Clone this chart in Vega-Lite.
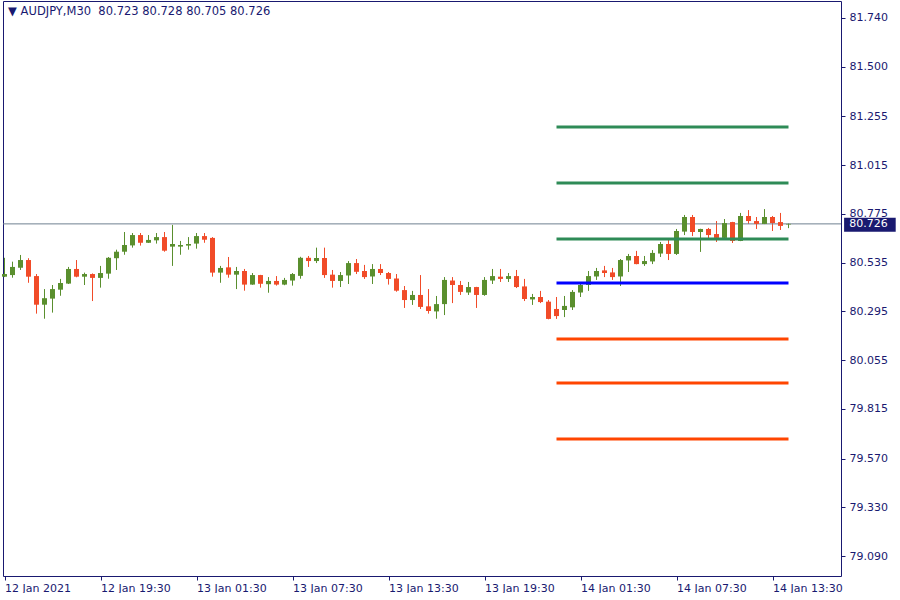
{
  "$schema": "https://vega.github.io/schema/vega-lite/v6.json",
  "width": 838,
  "height": 575,
  "padding": {"left": 2, "top": 1, "right": 0, "bottom": 0},
  "background": "white",
  "config": {
    "font": "DejaVu Sans",
    "view": {"stroke": "#191970", "strokeWidth": 1},
    "axis": {"labelFont": "DejaVu Sans", "labelFontSize": 11, "labelColor": "#191970", "tickColor": "#191970", "domain": false, "grid": false, "title": null}
  },
  "datasets": {
    "candles": [
      {"i":0,"o":80.466,"h":80.559,"l":80.464,"c":80.479},
      {"i":1,"o":80.474,"h":80.540,"l":80.461,"c":80.514},
      {"i":2,"o":80.510,"h":80.573,"l":80.499,"c":80.548},
      {"i":3,"o":80.548,"h":80.557,"l":80.436,"c":80.466},
      {"i":4,"o":80.469,"h":80.479,"l":80.284,"c":80.328},
      {"i":5,"o":80.328,"h":80.405,"l":80.259,"c":80.360},
      {"i":6,"o":80.358,"h":80.425,"l":80.289,"c":80.405},
      {"i":7,"o":80.402,"h":80.455,"l":80.372,"c":80.435},
      {"i":8,"o":80.432,"h":80.514,"l":80.430,"c":80.504},
      {"i":9,"o":80.504,"h":80.548,"l":80.463,"c":80.466},
      {"i":10,"o":80.466,"h":80.486,"l":80.425,"c":80.479},
      {"i":11,"o":80.479,"h":80.482,"l":80.346,"c":80.460},
      {"i":12,"o":80.460,"h":80.519,"l":80.412,"c":80.484},
      {"i":13,"o":80.481,"h":80.563,"l":80.456,"c":80.559},
      {"i":14,"o":80.557,"h":80.599,"l":80.499,"c":80.589},
      {"i":15,"o":80.589,"h":80.686,"l":80.574,"c":80.622},
      {"i":16,"o":80.620,"h":80.681,"l":80.609,"c":80.671},
      {"i":17,"o":80.671,"h":80.681,"l":80.619,"c":80.633},
      {"i":18,"o":80.633,"h":80.671,"l":80.632,"c":80.647},
      {"i":19,"o":80.645,"h":80.681,"l":80.629,"c":80.661},
      {"i":20,"o":80.661,"h":80.686,"l":80.589,"c":80.594},
      {"i":21,"o":80.614,"h":80.721,"l":80.519,"c":80.627},
      {"i":22,"o":80.614,"h":80.642,"l":80.574,"c":80.622},
      {"i":23,"o":80.619,"h":80.661,"l":80.599,"c":80.627},
      {"i":24,"o":80.629,"h":80.681,"l":80.604,"c":80.666},
      {"i":25,"o":80.666,"h":80.681,"l":80.633,"c":80.648},
      {"i":26,"o":80.657,"h":80.661,"l":80.466,"c":80.486},
      {"i":27,"o":80.486,"h":80.519,"l":80.436,"c":80.509},
      {"i":28,"o":80.512,"h":80.563,"l":80.461,"c":80.476},
      {"i":29,"o":80.476,"h":80.514,"l":80.405,"c":80.494},
      {"i":30,"o":80.494,"h":80.504,"l":80.397,"c":80.427},
      {"i":31,"o":80.427,"h":80.484,"l":80.426,"c":80.474},
      {"i":32,"o":80.474,"h":80.475,"l":80.412,"c":80.431},
      {"i":33,"o":80.429,"h":80.464,"l":80.387,"c":80.445},
      {"i":34,"o":80.445,"h":80.469,"l":80.422,"c":80.427},
      {"i":35,"o":80.427,"h":80.460,"l":80.424,"c":80.450},
      {"i":36,"o":80.447,"h":80.484,"l":80.422,"c":80.479},
      {"i":37,"o":80.470,"h":80.564,"l":80.456,"c":80.559},
      {"i":38,"o":80.559,"h":80.568,"l":80.514,"c":80.543},
      {"i":39,"o":80.543,"h":80.609,"l":80.533,"c":80.558},
      {"i":40,"o":80.558,"h":80.609,"l":80.460,"c":80.474},
      {"i":41,"o":80.476,"h":80.499,"l":80.412,"c":80.445},
      {"i":42,"o":80.445,"h":80.489,"l":80.415,"c":80.474},
      {"i":43,"o":80.472,"h":80.543,"l":80.430,"c":80.533},
      {"i":44,"o":80.533,"h":80.553,"l":80.479,"c":80.490},
      {"i":45,"o":80.494,"h":80.524,"l":80.455,"c":80.464},
      {"i":46,"o":80.467,"h":80.528,"l":80.430,"c":80.504},
      {"i":47,"o":80.504,"h":80.528,"l":80.474,"c":80.484},
      {"i":48,"o":80.484,"h":80.489,"l":80.427,"c":80.455},
      {"i":49,"o":80.457,"h":80.479,"l":80.392,"c":80.397},
      {"i":50,"o":80.400,"h":80.420,"l":80.312,"c":80.351},
      {"i":51,"o":80.351,"h":80.396,"l":80.327,"c":80.376},
      {"i":52,"o":80.376,"h":80.474,"l":80.307,"c":80.317},
      {"i":53,"o":80.320,"h":80.405,"l":80.284,"c":80.297},
      {"i":54,"o":80.295,"h":80.371,"l":80.259,"c":80.331},
      {"i":55,"o":80.331,"h":80.464,"l":80.277,"c":80.450},
      {"i":56,"o":80.447,"h":80.464,"l":80.336,"c":80.425},
      {"i":57,"o":80.425,"h":80.445,"l":80.376,"c":80.391},
      {"i":58,"o":80.388,"h":80.440,"l":80.376,"c":80.415},
      {"i":59,"o":80.415,"h":80.416,"l":80.312,"c":80.376},
      {"i":60,"o":80.376,"h":80.464,"l":80.372,"c":80.450},
      {"i":61,"o":80.447,"h":80.504,"l":80.430,"c":80.469},
      {"i":62,"o":80.466,"h":80.504,"l":80.440,"c":80.455},
      {"i":63,"o":80.455,"h":80.484,"l":80.440,"c":80.469},
      {"i":64,"o":80.469,"h":80.499,"l":80.410,"c":80.415},
      {"i":65,"o":80.418,"h":80.455,"l":80.346,"c":80.356},
      {"i":66,"o":80.354,"h":80.381,"l":80.327,"c":80.366},
      {"i":67,"o":80.366,"h":80.396,"l":80.336,"c":80.341},
      {"i":68,"o":80.343,"h":80.351,"l":80.256,"c":80.258},
      {"i":69,"o":80.307,"h":80.366,"l":80.258,"c":80.272},
      {"i":70,"o":80.302,"h":80.371,"l":80.267,"c":80.322},
      {"i":71,"o":80.315,"h":80.400,"l":80.302,"c":80.391},
      {"i":72,"o":80.388,"h":80.430,"l":80.366,"c":80.425},
      {"i":73,"o":80.425,"h":80.494,"l":80.396,"c":80.469},
      {"i":74,"o":80.467,"h":80.509,"l":80.450,"c":80.494},
      {"i":75,"o":80.497,"h":80.519,"l":80.464,"c":80.484},
      {"i":76,"o":80.487,"h":80.509,"l":80.450,"c":80.464},
      {"i":77,"o":80.467,"h":80.553,"l":80.420,"c":80.548},
      {"i":78,"o":80.546,"h":80.578,"l":80.489,"c":80.568},
      {"i":79,"o":80.568,"h":80.593,"l":80.527,"c":80.528},
      {"i":80,"o":80.528,"h":80.568,"l":80.519,"c":80.543},
      {"i":81,"o":80.541,"h":80.597,"l":80.528,"c":80.583},
      {"i":82,"o":80.580,"h":80.637,"l":80.563,"c":80.627},
      {"i":83,"o":80.627,"h":80.652,"l":80.548,"c":80.578},
      {"i":84,"o":80.578,"h":80.701,"l":80.573,"c":80.691},
      {"i":85,"o":80.688,"h":80.770,"l":80.671,"c":80.760},
      {"i":86,"o":80.760,"h":80.770,"l":80.666,"c":80.686},
      {"i":87,"o":80.686,"h":80.702,"l":80.588,"c":80.701},
      {"i":88,"o":80.701,"h":80.706,"l":80.647,"c":80.671},
      {"i":89,"o":80.676,"h":80.740,"l":80.637,"c":80.657},
      {"i":90,"o":80.657,"h":80.750,"l":80.647,"c":80.730},
      {"i":91,"o":80.735,"h":80.736,"l":80.632,"c":80.642},
      {"i":92,"o":80.642,"h":80.780,"l":80.641,"c":80.765},
      {"i":93,"o":80.765,"h":80.794,"l":80.726,"c":80.740},
      {"i":94,"o":80.740,"h":80.760,"l":80.701,"c":80.726},
      {"i":95,"o":80.726,"h":80.799,"l":80.725,"c":80.760},
      {"i":96,"o":80.760,"h":80.765,"l":80.691,"c":80.730},
      {"i":97,"o":80.735,"h":80.780,"l":80.696,"c":80.716},
      {"i":98,"o":80.723,"h":80.728,"l":80.705,"c":80.726}
    ],
    "pivots": [
      {"name":"R3","kind":"res","v":81.203,"start":69,"end":98},
      {"name":"R2","kind":"res","v":80.927,"start":69,"end":98},
      {"name":"R1","kind":"res","v":80.652,"start":69,"end":98},
      {"name":"P","kind":"pivot","v":80.435,"start":69,"end":98},
      {"name":"S1","kind":"sup","v":80.159,"start":69,"end":98},
      {"name":"S2","kind":"sup","v":79.942,"start":69,"end":98},
      {"name":"S3","kind":"sup","v":79.667,"start":69,"end":98}
    ],
    "quote": [
      {"label":"80.726","price":80.726,"top":80.756,"bottom":80.687,"x0":104.95,"x1":111.4,"tx":105.6}
    ],
    "header": [
      {"text":"▼  AUDJPY,M30\u00a0\u00a080.723 80.728 80.705 80.726","i":0.45,"price":81.7696}
    ]
  },
  "layer": [
    {
      "data": {"name": "candles"},
      "mark": {"type": "rule", "strokeWidth": 1},
      "encoding": {
        "x": {
          "field": "i", "type": "quantitative",
          "scale": {"domain": [-0.1875, 104.5625], "nice": false, "zero": false, "padding": 0},
          "axis": {
            "orient": "bottom",
            "values": [0, 12, 24, 36, 48, 60, 72, 84, 96],
            "labelExpr": "['12 Jan 2021','12 Jan 19:30','13 Jan 01:30','13 Jan 07:30','13 Jan 13:30','13 Jan 19:30','14 Jan 01:30','14 Jan 07:30','14 Jan 13:30'][round(datum.value/12)]",
            "labelAlign": "left", "labelBaseline": "top", "tickSize": 4, "labelPadding": 2,
            "labelFlush": false, "labelOverlap": false
          }
        },
        "y": {
          "field": "l", "type": "quantitative",
          "scale": {"domain": [78.9919, 81.8237], "nice": false, "zero": false, "padding": 0},
          "axis": {
            "orient": "right",
            "values": [81.74, 81.5, 81.255, 81.015, 80.775, 80.535, 80.295, 80.055, 79.815, 79.57, 79.33, 79.09],
            "format": ".3f", "tickSize": 4, "labelPadding": 4, "labelAlign": "left", "labelBaseline": "middle",
            "labelOverlap": false, "labelFlush": false
          }
        },
        "y2": {"field": "h"},
        "color": {"condition": {"test": "datum.c >= datum.o", "value": "#5a8f2e"}, "value": "#f14b28"}
      }
    },
    {
      "data": {"name": "quote"},
      "mark": {"type": "rule", "color": "#6f8091", "strokeWidth": 1},
      "encoding": {"y": {"field": "price", "type": "quantitative"}}
    },
    {
      "data": {"name": "candles"},
      "mark": {"type": "bar", "size": 5},
      "encoding": {
        "x": {"field": "i", "type": "quantitative"},
        "y": {"field": "o", "type": "quantitative"},
        "y2": {"field": "c"},
        "color": {"condition": {"test": "datum.c >= datum.o", "value": "#5a8f2e"}, "value": "#f14b28"}
      }
    },
    {
      "data": {"name": "pivots"},
      "mark": {"type": "rule", "strokeWidth": 3, "strokeCap": "butt"},
      "encoding": {
        "x": {"field": "start", "type": "quantitative"},
        "x2": {"field": "end"},
        "y": {"field": "v", "type": "quantitative"},
        "color": {"field": "kind", "type": "nominal", "scale": {"domain": ["res", "pivot", "sup"], "range": ["#2e8b57", "#0000ff", "#ff4500"]}, "legend": null}
      }
    },
    {
      "data": {"name": "quote"},
      "mark": {"type": "rect", "color": "#191970"},
      "encoding": {
        "x": {"field": "x0", "type": "quantitative"},
        "x2": {"field": "x1"},
        "y": {"field": "top", "type": "quantitative"},
        "y2": {"field": "bottom"}
      }
    },
    {
      "data": {"name": "quote"},
      "mark": {"type": "text", "color": "white", "font": "DejaVu Sans", "fontSize": 11, "align": "left", "baseline": "middle"},
      "encoding": {
        "x": {"field": "tx", "type": "quantitative"},
        "y": {"field": "price", "type": "quantitative"},
        "text": {"field": "label"}
      }
    },
    {
      "data": {"name": "header"},
      "mark": {"type": "text", "color": "#191970", "font": "DejaVu Sans", "fontSize": 11.5, "align": "left", "baseline": "middle"},
      "encoding": {
        "x": {"field": "i", "type": "quantitative"},
        "y": {"field": "price", "type": "quantitative"},
        "text": {"field": "text"}
      }
    }
  ]
}
